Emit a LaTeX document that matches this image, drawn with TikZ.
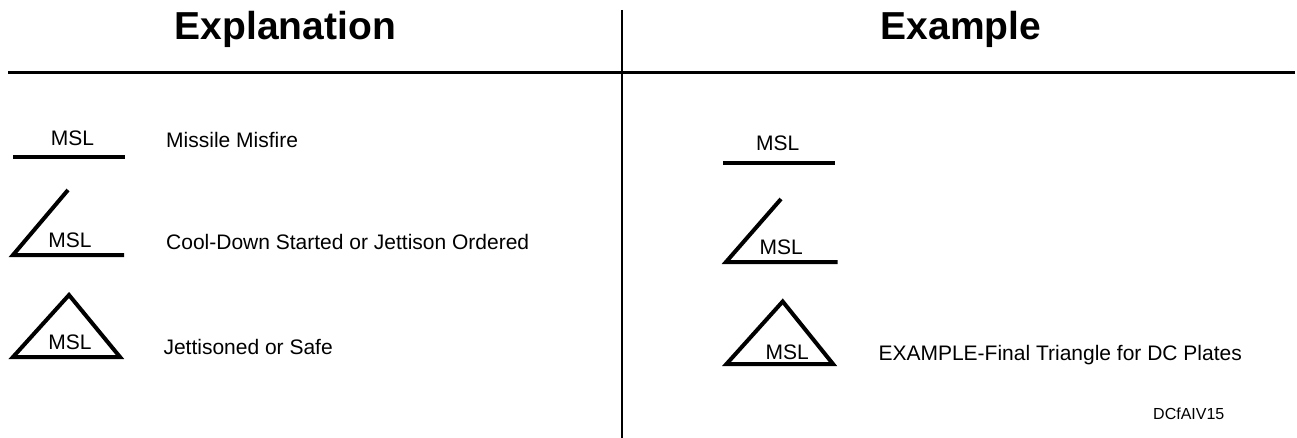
\documentclass[tikz,border=0pt]{standalone}
\usepackage{fontspec}
\setmainfont{Liberation Sans}
\begin{document}
\begin{tikzpicture}[x=1pt,y=-1pt,
  sym/.style={line width=4pt, line join=miter},
  rule/.style={line width=3pt},
  vrule/.style={line width=2.2pt},
  lbl/.style={inner sep=0, anchor=base west, font=\fontsize{21}{25}\selectfont},
  msl/.style={inner sep=0, anchor=base, font=\fontsize{21}{25}\selectfont},
  ttl/.style={inner sep=0, anchor=base, font=\fontsize{39}{46}\selectfont\bfseries},
  tag/.style={inner sep=0, anchor=base west, font=\fontsize{16}{19}\selectfont}]
\useasboundingbox (0,0) rectangle (1297,438);
% titles and rules
\node[ttl] (texpl) at (285.3,39.3) {Explanation};
\node[ttl] (texmp) at (961,39.3) {Example};
\coordinate (hl) at (8,72.3);
\coordinate (hr) at (1295,72.3);
\coordinate (vt) at (622,10);
\coordinate (vb) at (622,438);
\draw[rule] (hl) -- (hr);
\draw[vrule] (vt) -- (vb);
% Explanation column
\draw[sym] (13,157) -- (125,157);
\node[msl] (m1) at (72.5,145.7) {MSL};
\node[lbl] (l1) at (166,147.3) {Missile Misfire};
\draw[sym] (68,190) -- (13,255) -- (124,255);
\node[msl] (m2) at (70,247.3) {MSL};
\node[lbl] (l2) at (166,250) {Cool-Down Started or Jettison Ordered};
\draw[sym] (69,295) -- (13,357) -- (120,357) -- cycle;
\node[msl] (m3) at (70,349.3) {MSL};
\node[lbl] (l3) at (163.3,354) {Jettisoned or Safe};
% Example column
\draw[sym] (723,163.3) -- (835,163.3);
\node[msl] (e1) at (777.7,150.7) {MSL};
\draw[sym] (781,199) -- (726,262) -- (837.7,262);
\node[msl] (e2) at (781.3,254.3) {MSL};
\draw[sym] (782.7,301.5) -- (726.5,364) -- (833,364) -- cycle;
\node[msl] (e3) at (787.2,359) {MSL};
\node[lbl] (el3) at (878.3,360) {EXAMPLE-Final Triangle for DC Plates};
\node[tag] (code) at (1153,419) {DCfAIV15};
\end{tikzpicture}
\end{document}
